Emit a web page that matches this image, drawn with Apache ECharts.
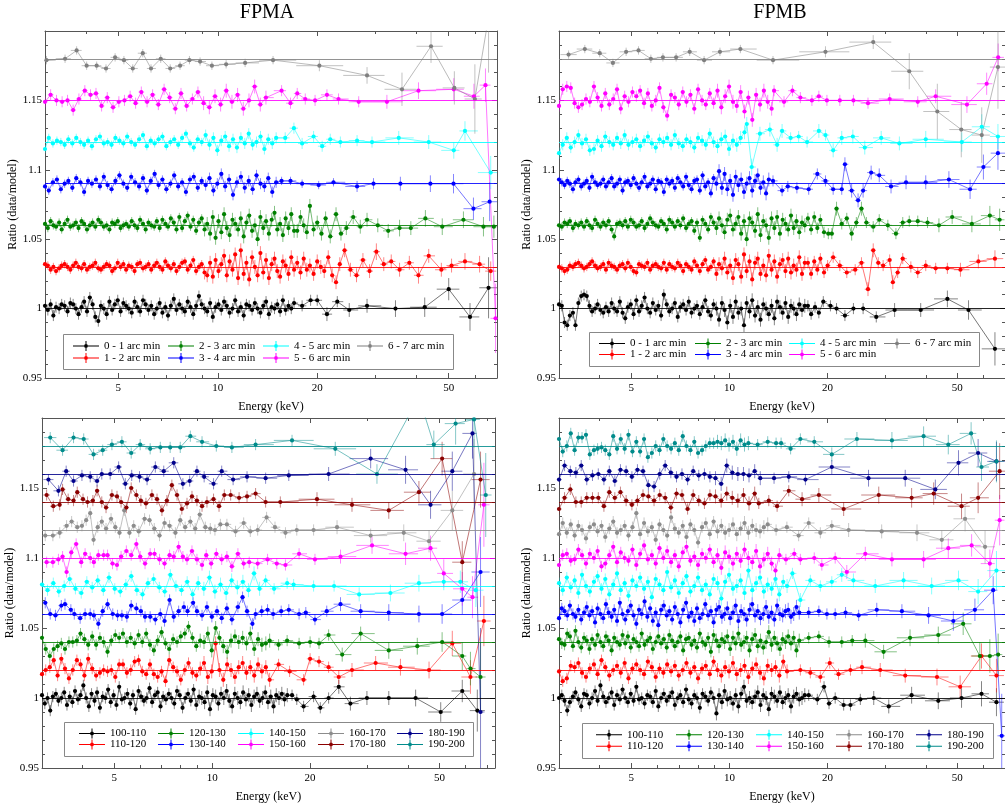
<!DOCTYPE html>
<html><head><meta charset="utf-8">
<script src="https://cdn.jsdelivr.net/npm/echarts@6.0.0/dist/echarts.min.js"></script>
<style>html,body{margin:0;padding:0;background:#fff}#c{width:1005px;height:806px}</style>
</head><body><div id="c"></div>
<script>
// ---------- axis / label data ----------
const majorTicksKeV = [5, 10, 20, 50];
const minorTicksKeV = [4, 6, 7, 8, 9, 30, 40, 60, 70];
const topNames = ['0 - 1 arc min','1 - 2 arc min','2 - 3 arc min','3 - 4 arc min','4 - 5 arc min','5 - 6 arc min','6 - 7 arc min'];
const bottomNames = ['100-110','110-120','120-130','130-140','140-150','150-160','160-170','170-180','180-190','190-200'];
const topBaselines = [1.00, 1.03, 1.06, 1.09, 1.12, 1.15, 1.18];
const bottomBaselines = [1.00, 1.02, 1.04, 1.06, 1.08, 1.10, 1.12, 1.14, 1.16, 1.18];

// ---------- shared energy grids (keV) ----------
const gridA = [3.00,3.06,3.12,3.18,3.24,3.31,3.37,3.44,3.51,3.58,3.65,3.72,3.79,3.87,3.94,4.02,4.10,4.18,4.26,4.35,4.43,4.52,4.61,4.70,4.79,4.88,4.98,5.08,5.18,5.28,5.38,5.49,5.60,5.71,5.82,5.94,6.05,6.17,6.29,6.42,6.54,6.67,6.80,6.94,7.07,7.21,7.36,7.50,7.65,7.80,7.95,8.11,8.27,8.43,8.60,8.77,8.94,9.12,9.29,9.48,9.66,9.85,10.05,10.25,10.45,10.65,10.86,11.08,11.29,11.52,11.74,11.98,12.21,12.45,12.70,12.95,13.20,13.46,13.73,14.00,14.28,14.56,14.85,15.14,15.44,15.74,16.05,16.37,16.69,17.02];
const gridB = [3.00,3.08,3.17,3.26,3.35,3.44,3.53,3.63,3.73,3.84,3.94,4.05,4.16,4.28,4.40,4.52,4.64,4.77,4.90,5.04,5.18,5.32,5.47,5.62,5.78,5.94,6.10,6.27,6.44,6.62,6.80,6.99,7.19,7.38,7.59,7.80,8.01,8.24,8.46,8.70,8.94,9.19,9.44,9.70,9.97,10.25,10.53,10.82,11.12,11.43,11.75,12.07,12.41,12.75,13.10,13.47,13.84,14.22,14.62,15.02];
const gridC = [3.00,3.12,3.25,3.38,3.51,3.65,3.80,3.96,4.12,4.28,4.45,4.63,4.82,5.02,5.22,5.43,5.64,5.87,6.11,6.35,6.61,6.88,7.15,7.44,7.74,8.05,8.38,8.71,9.06,9.43,9.81,10.20,10.61,11.04,11.48,11.95,12.43,12.93,13.45,13.99];
const noE = [];

// ---------- FPMA, annuli (deviations from baseline in 0.001, errors in 0.001) ----------
const tlBlackDev = [2,-1,3,-5,1,0,3,2,-2,4, 3,0,-4,1,5,-2,8,3,-6,-9, 2,0,-4,5,-1,3,6,-2,4,2, 0,-3,5,1,-2,6,3,-1,2,-4, 0,4,-3,1,-5,2,7,-1,3,0, -2,5,1,-4,2,9,3,0,-2,4, -6,1,3,-1,5,2,-3,0,6,-2, 1,-5,3,2,-1,4,0,-3,2,5, -4,1,0,3,-2,6,-1,2,0,4];
const tlBlackTailE = [18.0,19.1,20.0,21.4,23.0,25.0,28.3,34.5,42.3,50,58,66];
const tlBlackTailDev = [2,6,6,-4,5,-1,2,0,1,14,-6,15];
const tlBlackTailErr = [4,4,4,5,4,5,5,6,7,8,10,22];

const tlRedDev = [2,1,-2,0,-3,-1,1,2,0,-2, 1,3,0,-1,2,-2,0,1,3,-1, -2,0,2,1,-3,-1,3,0,2,-2, 1,0,-3,2,3,-1,0,2,-2,1, 3,0,-2,4,1,-1,2,-3,0,3, 4,-2,1,5,-3,0,2,-4,-6,3, -7,5,-3,2,8,-6,4,-2,9,-8, 12,-5,3,-9,7,0,-6,10,-4,5, -8,2,6,-3,-7,4,1,-5,7,-2];
const tlRedTailE = [17.4,17.8,18.2,18.6,19.0,19.5,20.0,20.5,21.0,21.6,22.2,22.8,23.4,24.2,25.2,26.3,27.5,28.8,30.2,31.8,33.5,35.5,38.0,40.5,43.5,47.5,51,56,62,67];
const tlRedTailDev = [3,-4,6,-2,1,-5,4,0,-3,7,-6,-11,2,12,-2,-6,5,-3,11,2,4,-2,3,-6,8,-2,1,4,2,-3];
const tlRedTailErr = [5,5,5,5,5,5,5,5,5,5,5,5,5,5,5,5,5,5,6,5,5,5,5,6,5,5,5,6,6,7];

const tlGreenDev = [1,-2,3,0,-1,2,-3,1,4,-1, 0,2,-2,3,1,-3,0,2,-1,4, 2,-1,0,-3,2,1,3,-2,0,1, -1,3,0,-2,4,1,-3,2,0,-1, 3,-2,4,1,-1,5,2,-3,6,-2, 3,7,-1,4,-4,2,5,-3,1,-6, 6,-9,3,-5,8,-2,-7,4,1,-3, 5,-8,2,7,-4,0,-10,6,-2,3, -6,4,9,-3,1,-7,5,-2,8,-4];
const tlGreenTailE = [17.4,17.8,18.2,18.6,19.0,19.5,20.0,20.6,21.2,21.9,22.8,23.6,24.5,25.7,27.0,28.3,30.5,32.8,35.5,38.4,42.5,47.8,55.4,63.7,68.5];
const tlGreenTailDev = [-4,6,0,-5,14,-3,2,-6,5,-8,8,-6,-2,6,-1,4,0,-4,-2,-2,5,-1,4,-1,-1];
const tlGreenTailErr = [5,5,5,5,5,5,5,5,5,5,5,5,5,5,5,5,5,5,6,5,6,6,6,7,8];

const tlBlueDev = [-2,-5,1,3,-4,0,2,-3,4,1, -6,2,0,3,-2,5,-1,-4,2,6, 0,-3,5,1,-2,4,-5,2,7,-1, 3,-4,0,6,-2,1,-6,3,5,-3, 2,-1,4,-5,0,7,-2,3,-8,1, 5,-3,2,-4,6,0,-2,4,-6,1];
const tlBlueTailE = [15.6,16.6,18,20.2,22.4,26.4,29.6,35.7,44,51.7,59.4,66.5];
const tlBlueTailDev = [2,2,0,-1,1,-2,0,0,0,0,-18,-13];
const tlBlueTailErr = [3,3,3,3,3,4,4,5,6,7,8,14];

const tlCyanDev = [-5,3,-1,1,0,-2,2,-1,3,0, -2,1,-3,2,4,-1,0,-2,3,1, -1,4,0,-2,2,5,-3,1,-1,2, 4,-3,0,2,-2,3,6,-1,-4,2, 0,5,-2,3,-6,1,4,-3,2,-4, 3,-1,6,-2,0,4,-5,2,-1,3];
const tlCyanTailE = [16.0,17,18,19.5,20.7,21.9,23.5,26.4,29.3,35.3,43.5,51.8,56,67];
const tlCyanTailDev = [3,10,-1,4,-3,2,0,1,0,3,0,-6,8,-22];
const tlCyanTailErr = [4,4,4,4,4,4,4,4,4,5,5,6,7,12];

const tlMagentaDev = [-1,4,0,-1,0,-7,1,7,4,5, -4,2,-5,-1,0,3,-2,6,-1,4, -3,8,2,-6,5,-4,1,6,-2,-5, 3,-3,7,-1,4,-6,0,10,-3,2];
const tlMagentaTailE = [15.6,16.6,17.4,18.4,19.7,21.4,23.2,26.7,32.5,40.5,51.8,59.6,64.6,69.3];
const tlMagentaTailDev = [7,-2,5,1,0,4,1,-1,-1,7,8,3,11,-157];
const tlMagentaTailErr = [4,4,4,4,4,4,4,4,5,6,8,9,12,25];

const tlGrayE = [3.03,3.45,3.74,4.01,4.30,4.59,4.89,5.20,5.53,5.93,6.28,6.72,7.18,7.69,8.21,8.84,9.60,10.6,12.1,14.7,20.3,28.3,36.1,44.2,52,60,66];
const tlGrayDev = [-1,0,6,-5,-5,-7,1,-1,-7,4,-7,0,-7,-5,-1,-2,-5,-4,-3,-1,-5,-12,-22,9,-21,-29,30];
const tlGrayErr = [3,3,3,3,3,3,3,3,3,3,3,3,3,3,3,3,3,3,3,3,4,6,12,12,12,25,40];

// ---------- FPMB, annuli ----------
const trBlackDev = [3,2,-10,-12,-5,-3,-12,4,9,10, 9,2,-2,0,3,-1,-3,1,-2,4, 0,-2,5,-3,-7,1,3,-4,6,-2, 2,8,0,-3,4,-1,2,-5,10,3, -2,0,4,-6,1,3,-1,5,-3,0, 2,-4,1,6,-2,-5,3,0,-8,4, -1,-10,2,-6,5,-3,0,-12,4,-2, 6,-5,1,-8,3,0,-4,2,-7,5, 1,-3,4,-6,2,0,-4,3,-1,2];
const trBlackTailE = [17.4,17.8,18.3,18.8,19.4,20.4,21.3,22.6,24,25.7,28.2,32.1,38.6,46.6,54.1,65.2];
const trBlackTailDev = [2,-4,1,-3,5,2,0,-5,0,0,-6,-1,-1,7,-1,-29];
const trBlackTailErr = [4,4,4,4,4,4,4,4,4,4,4,5,5,6,7,12];

const trRedDev = [0,-1,-3,-2,1,0,2,3,1,-1, 0,2,4,1,-1,0,2,-2,3,1, 0,-2,1,2,-1,3,0,-3,-4,2, 1,0,3,-2,1,2,0,-1,3,-2, 2,0,-1,3,1,-3,2,0,-2,4, 1,-3,2,5,-2,0,4,-5,2,-1, 6,-4,1,-8,5,2,-7,9,-3,4, -9,3,6,-5,1,-6,8,-2,4,-7, 2,5,-3,6,-4,1,-2,7,-5,3];
const trRedTailE = [17.4,17.8,18.2,18.6,19.0,19.5,20.0,20.8,21.8,22.9,24.3,25.4,26.6,27.6,28.6,29.6,31,31.7,32.8,34,36,37.8,40,42.9,46.6,51.1,58,65.2];
const trRedTailDev = [3,-5,4,-2,6,-4,1,7,1,-4,-2,3,-16,12,3,1,5,-11,-4,6,0,-4,1,-1,-1,-2,4,6];
const trRedTailErr = [4,4,4,4,4,4,4,4,4,4,4,4,5,5,4,4,4,5,4,4,4,4,4,4,4,5,5,6];

const trGreenDev = [0,-1,2,1,3,-2,1,0,2,-1, 3,0,-2,4,1,-1,2,0,3,-3, -8,1,2,0,3,-1,4,2,-1,0, 3,-2,1,5,2,0,-1,3,1,-3, 4,2,-1,3,0,5,-2,1,3,-4, 2,-9,4,1,-3,6,2,-2,5,0, -5,4,7,-3,1,6,-6,3,-10,5, 2,-4,8,-7,3,0,-9,5,-2,6, -6,4,1,-3,7,-2,3,-5,2,0];
const trGreenTailE = [17.4,17.8,18.2,18.6,19.0,19.5,20.1,20.6,21.3,22.1,22.9,23.7,24.5,25.4,26.3,27.6,28.8,30.6,32.4,34,35.6,37.8,40.5,43.9,48.2,55.4,62.9,67.4];
const trGreenTailDev = [5,-3,6,-2,4,-5,-6,-6,12,1,5,-6,2,12,2,-1,4,0,-6,2,3,3,2,0,6,1,7,4];
const trGreenTailErr = [4,4,4,4,4,4,4,4,5,4,4,5,4,5,4,4,4,4,4,4,4,4,4,5,5,6,7,8];

const trBlueDev = [3,1,-1,2,0,-4,1,3,-2,0, 2,-3,5,1,-1,0,3,-2,1,4, -2,0,3,-5,1,2,-1,4,0,-3, 1,5,-2,0,3,-4,2,1,-6,3, 0,2,-3,4,1,-2,5,-1,-4,2, 3,-5,6,-2,1,-7,4,0,9,-3, 7,-4,2,-8,5,-1,3,-6,0,4, -5,2,6,-3,1,-7,3];
const trBlueTailE = [13.6,14.5,15.1,16.1,17.5,18.6,19.7,20.8,22.1,22.6,23.7,24.8,25.7,27.2,28.8,31.3,34.8,40,47.1,54.7,60.1,66.6];
const trBlueTailDev = [2,-5,-2,-3,-4,7,2,-4,-4,14,-5,-12,-5,8,6,-2,1,1,3,-4,12,22];
const trBlueTailErr = [4,4,4,4,4,4,4,4,4,5,5,5,5,5,5,5,5,5,6,7,9,12];

const trCyanDev = [-8,-2,3,-4,0,5,-1,2,-6,-5, 1,-3,4,0,-2,3,-1,5,-2,0, 2,-3,1,4,-1,-4,2,0,3,-2, 5,-1,-3,2,0,-4,3,1,-2,6, 0,-3,2,4,-5,1,-2,3,7];
const trCyanTailE = [11.3,11.7,12.4,13.3,14.0,14.5,15.4,16.3,17.3,18.8,19.7,20.8,22.1,23.9,26,29.2,33.2,40,51.6,59.4,66.6];
const trCyanTailDev = [13,-18,6,9,-2,8,3,4,0,8,5,-6,3,4,-4,3,-1,2,0,11,4];
const trCyanTailErr = [5,6,5,5,5,5,4,4,4,5,4,5,5,5,5,5,5,6,7,9,9];

const trMagentaDev = [-4,8,10,9,-2,-5,-3,1,-1,10, 2,-4,5,-3,1,8,-6,3,-1,6, 3,7,-2,5,-4,0,9,-5,-11,4, 2,-3,6,-1,4,-6,8,0,-3,5, -2,7,-5,3,10,-1,-4,6,-8,2, -14,4,-3,7,-1,-6];
const trMagentaTailE = [13.7,14.7,15.6,16.5,17.9,18.8,19.9,21.8,24,26.6,31,37.8,42.9,53.5,61.5,66.7];
const trMagentaTailDev = [7,-1,7,2,0,3,0,0,0,-2,1,-1,3,-3,12,31];
const trMagentaTailErr = [4,4,4,4,4,4,4,4,4,4,4,4,5,6,8,10];

const trGrayE = [3.21,3.60,4.0,4.39,4.82,5.26,5.74,6.25,6.86,7.55,8.36,9.35,10.8,13.6,19.7,27.6,35.6,43.4,51.4,59.4,66.6];
const trGrayDev = [3,7,4,-3,5,6,0,1,1,5,-1,5,7,-1,5,12,-9,-38,-51,-55,-6];
const trGrayErr = [3,3,3,3,3,3,3,3,3,3,3,3,3,3,4,5,13,20,20,20,30];

// ---------- FPMA, bottom rings ----------
const blBlackDev = [2,-4,0,-9,1,3,-2,0,4,-5, 1,-3,5,-1,2,9,0,-6,3,-2, 4,-7,1,0,6,-3,2,-5,8,-1, 0,3,-4,2,-8,5,1,-2,0,7, -3,2,4,-6,1,-1,3,0,-4,5, 2,-7,0,3,-2,6,-5,1,0,-3, 4,-8,2,1,-4,3,0,5,-2,-6, 3,0,-3,4,-1,2,-5,1,3,-2, 0,4,-3,1,-6,2,0,3,-1,2];
const blBlackTailE = [17.6,18.2,19.1,20.5,21.5,22.8,24.5,26.6,29.9,34.9,42.2,50.4,58.7,65.3];
const blBlackTailDev = [2,-1,-6,1,-7,0,8,-4,0,0,0,-10,5,-9];
const blBlackTailErr = [4,4,4,4,4,4,5,5,5,5,6,7,8,15];

const blRedDev = [-3,0,2,7,-4,8,1,-6,0,7, 4,-4,8,1,-4,-2,0,-1,0,-5, 4,4,-2,0,6,7,-1,-3,4,-3, -5,-1,-8,7,2,-1,-7,0,5,-2, -4,1,5,-5,-1,19,0,-7,4,0, -5,2,5,-2,2,-4,4,-1,2,-7];
const blRedTailE = [16,17.3,19.1,20,21.3,22.8,24.5,26.9,31.8,37.9,46.4,54.7,62.2,68.4];
const blRedTailDev = [4,-1,-7,8,6,2,-5,0,5,2,0,19,-5,35];
const blRedTailErr = [4,4,4,4,4,4,5,5,5,6,6,9,12,18];

const blGreenDev = [3,-5,-10,-5,-3,-1,-5,0,0,1, 6,2,-2,4,-2,3,0,-7,1,5, 3,6,0,3,-1,5,0,6,-2,-6, 1,7,-1,-5,2,0,4,6,11,3, -3,1,0,6,-6,10,3,-3,-7,1, 4,0,3,-1,6,-5,2,-2,-1,1];
const blGreenTailE = [16,17,18.5,20,21.3,22.8,25.1,28.6,34.9,42.7,50.9,58.7,62.2,66.8];
const blGreenTailDev = [-2,1,-1,0,-1,5,-9,6,-6,-3,0,-10,-19,-25];
const blGreenTailErr = [4,4,4,4,4,4,5,5,6,6,7,10,12,25];

const blBlueE = [3.07,3.18,3.30,3.44,3.53,3.68,3.77,3.93,4.07,4.22,4.33,4.47,4.61,4.77,4.95,5.12,5.28,5.47,5.64,5.85,6.04,6.22,6.45,6.69,6.93,7.14,7.40,7.62,7.89,8.19,8.40,8.74,8.98,9.31,9.64,9.98,10.35,10.7,11.1,11.5,12.0,12.4,12.8,13.3,13.6,14.2,14.8,15.4,16.3,17.2,18.5,19.4,20.7];
const blBlueDev = [8,0,-1,6,7,3,0,-3,0,0, -1,-7,2,7,0,-1,-1,-2,6,4, 2,-2,-2,-4,0,-5,10,-2,2,5, 2,8,2,-1,5,-2,2,-3,4,-4, 5,12,2,-7,0,2,3,0,2,3, 0,1,-4];
const blBlueTailE = [22.5,24.8,28.6,34.9,43.2,50.9,58.7,66.8];
const blBlueTailDev = [2,7,2,1,0,0,10,30];
const blBlueTailErr = [4,5,5,6,6,7,10,25];

const blCyanDev = [1,-3,2,-4,0,5,-2,-5,3,-1, 4,-3,6,-2,-4,1,7,-3,-6,2, 5,-1,-4,8,0,-3,3,-6,2,-2, 6,-4,1,-5,4,-1,3,-3,9,-2];
const blCyanTailE = [14.6,15.5,17,17.8,20.5,23.7,28.3,35.3,43.2,51.5,57.9,64.6];
const blCyanTailDev = [4,-2,2,1,0,0,-6,-5,2,3,3,-3];
const blCyanTailErr = [4,4,4,4,4,4,5,6,6,6,8,12];

const blMagentaE = [3.10,3.24,3.37,3.47,3.57,3.69,3.82,3.96,4.07,4.22,4.33,4.47,4.64,4.77,4.94,5.10,5.25,5.45,5.64,5.85,6.01,6.22,6.45,6.65,6.89,7.14,7.40,7.62,7.89,8.13,8.37,8.67,8.98,9.31,9.59,9.93,10.3,10.7,11.1,11.5,12.0,12.5,13.0,13.8,14.8,15.8,16.8,18.5,20.7];
const blMagentaDev = [-3,-3,-1,1,-10,4,10,-3,3,0, -3,2,2,2,-4,-5,1,5,2,10, 1,-4,3,3,-1,-4,2,1,8,1, -1,5,-1,-5,2,-4,3,-1,1,-6, 3,-4,-3,-4,-1,-4,-5,3,-1];
const blMagentaTailE = [24.8,31,39.3,46.9,51.5,58.7,63.1,68.4];
const blMagentaTailDev = [1,9,3,7,-11,-22,-28,38];
const blMagentaTailErr = [5,6,8,9,10,12,15,30];

const blGrayE = [3.07,3.24,3.40,3.57,3.70,3.85,3.98,4.10,4.22,4.32,4.45,4.58,4.72,4.89,5.04,5.19,5.37,5.57,5.74,5.95,6.20,6.42,6.64,6.89,7.14,7.40,7.71,7.98,8.26,8.57,8.87,9.16,9.53,9.87,10.2,10.6,11.1,11.8,12.5,13.1,13.8,14.7,15.6,16.8,18.2,20.5];
const blGrayDev = [-4,-4,-2,3,6,2,3,7,12,-7, 2,6,1,8,2,-2,14,-2,3,-1, 8,7,1,-4,5,3,-2,7,2,6, 1,11,2,1,0,4,4,-1,5,-1, 0,9,2,-2,0,0];
const blGrayTailE = [24.2,30.7,38.8,46.4,54.7,63.8];
const blGrayTailDev = [2,-4,-2,-8,14,40];
const blGrayTailErr = [5,5,6,8,14,25];

const blDarkredE = [3.10,3.25,3.40,3.47,3.61,3.75,3.85,4.01,4.14,4.30,4.43,4.58,4.72,4.92,5.10,5.25,5.45,5.64,5.85,6.04,6.26,6.53,6.77,7.01,7.26,7.52,7.80,8.07,8.37,8.67,8.98,9.31,9.64,10.1,10.5,10.9,11.4,12.1,12.8,13.6,14.6,16.2];
const blDarkredDev = [5,-3,-2,9,2,1,7,2,0,1, 8,0,-4,5,4,0,-4,10,5,1, -1,5,2,-6,1,12,5,-5,-1,4, 1,-3,0,2,-3,5,5,3,4,6, 0,0];
const blDarkredTailE = [21,26.9,34.9,43.2,50.9,58.7,66.8];
const blDarkredTailDev = [2,-2,-6,7,31,-43,16];
const blDarkredTailErr = [5,5,6,8,12,15,20];

const blNavyE = [3.14,3.37,3.56,3.75,3.98,4.22,4.43,4.58,4.86,5.16,5.41,5.66,5.98,6.31,6.69,7.10,7.62,8.13,8.53,8.98,9.45,10.1,10.7,11.6,12.8,14.6,17.2];
const blNavyDev = [-4,-12,2,-5,-1,-2,-5,0,0,5, -7,-1,-2,-4,5,2,8,-7,-5,2, -2,-7,2,-4,-2,-3,-1];
const blNavyTailE = [22.8,30.7,39.3,46.9,54.7,63.1,66.8];
const blNavyTailDev = [0,11,3,-22,2,29,-170];
const blNavyTailErr = [5,7,10,10,14,18,60];

const blTealE = [3.18,3.47,3.75,4.03,4.32,4.61,4.92,5.28,5.64,6.01,6.45,6.93,7.43,7.98,8.57,9.31,10.3,11.5,13.6,17.6];
const blTealDev = [6,-3,6,5,-6,-3,1,3,-5,1, -2,-1,-1,-1,7,3,0,-1,1,4];
const blTealTailE = [23.9,32.1,43.2,48,56,63.8,69.3];
const blTealTailDev = [-2,-20,35,1,16,19,-35];
const blTealTailErr = [5,7,15,10,15,20,30];

// ---------- FPMB, bottom rings ----------
const brBlackDev = [0,2,-2,-9,-3,1,4,-1,-6,3, 2,-4,0,5,-2,9,1,-3,0,4, -5,2,-1,6,0,-3,3,-2,8,-1, 0,-4,2,1,-3,5,-6,0,3,-2, 1,4,-5,0,2,-3,6,-1,-4,2, 0,-7,3,1,-2,4,0,-11,2,-3, 5,-1,0,-4,2,-6,3,8,-2,0, -3,1,4,-5,2,0,-8,3,1,-2, 4,-3,0,2,-6,1,3,-1,0,2];
const brBlackTailE = [17.5,18.6,19.5,20.2,21.1,22.4,23.5,25.2,27.7,30.8,36.2,43.7,51.5,59.3,65.9];
const brBlackTailDev = [2,-1,8,-4,0,-5,-5,-1,0,-6,2,-2,0,3,-3];
const brBlackTailErr = [4,4,4,4,4,4,4,4,5,5,6,6,7,9,10];

const brRedDev = [-1,-8,-6,3,2,5,-2,-5,1,4, -3,7,2,-4,0,3,-2,5,-6,1, 4,0,-3,6,2,-5,1,-2,4,-1, 3,-4,0,5,-2,2,-6,1,3,-3, 6,0,-4,2,-1,5,-3,0,3,-5, 1,4,-2,-6,3,0,2,-4,6,-1];
const brRedTailE = [16.5,17.7,19,20.3,21.6,23.5,25.5,29,34.6,43.3,51,59.3,65.9];
const brRedTailDev = [0,-2,-5,5,-3,0,2,0,-4,-5,-12,10,-4];
const brRedTailErr = [4,4,4,4,4,4,5,5,5,6,8,9,12];

const brGreenDev = [2,-1,-2,6,4,-3,8,0,-4,3, 1,-5,2,-2,5,0,-3,4,1,-6, 3,0,-2,5,-1,4,-4,2,0,-3, 6,-2,1,3,-5,0,4,-1,2,-4, 5,1,-3,0,4,-6,2,3,-2,1, -4,6,0,-2,3,-7,5,1,-3,2, 0,4,-5,3,-1,6,-2,0,3,-6, 2,5,-3,1,-4,0,7,-2,3,-1, -5,2,0,4,-1,3,-6,1];
const brGreenTailE = [17.5,18.8,20.2,22.1,23.8,26.1,29.7,35.8,43.7,52.1,58.6,62.9,66.7];
const brGreenTailDev = [3,4,0,0,1,1,-7,3,5,13,-10,-10,-9];
const brGreenTailErr = [4,4,4,4,4,5,5,6,6,8,10,12,15];

const brBlueDev = [-3,4,2,-1,6,0,-2,3,-4,1, 5,-1,2,-6,4,0,-3,7,1,-2, 3,-5,8,0,-4,2,6,-1,-7,3, 0,9,-2,4,-5,1,-8,3,6,-1, 2,-4,5,0,-6,3,8,-2,1,-5, 4,-3,0,7,-1,2,-6,3,5,-2, 0,4,-3,1,6,-5,2,0,-4,3, 7,-1,2,-3,0,5,-2,1,-4,6, 0,-1,2,3,-2,0,5,1];
const brBlueTailE = [17.5,18.8,19.9,21.1,22.7,24.9,28.3,33.8,40.8,48.6,56.6,64.4,68.4];
const brBlueTailDev = [1,2,0,0,1,-1,3,2,-1,-5,3,17,-87];
const brBlueTailErr = [4,4,4,4,4,4,5,5,6,7,8,10,30];

const brCyanDev = [2,-3,6,-1,4,-5,8,0,-4,3, 7,-2,5,-6,1,9,-3,2,-7,4, 0,6,-2,3,-8,5,1,-3,10,-1, 4,-5,2,7,-4,0,6,-3,1,-6, 5,2,-9,3,8,-2,0,4,-5,11, -3,2,6,-4,1,-2,5,-6,3,0];
const brCyanTailE = [15.6,16.5,17.7,19,20.6,22.1,24,28,34.2,41.7,50.4,57.9,65.9];
const brCyanTailDev = [9,-10,4,0,3,8,4,0,4,0,4,-4,11];
const brCyanTailErr = [4,5,4,4,4,5,5,5,6,6,7,9,14];

const brMagentaDev = [-5,2,3,-2,-1,6,2,-4,3,0, 5,-6,-4,2,8,-3,4,0,-2,6, -5,3,9,-1,2,-4,7,0,5,-3, 2,-6,4,8,-2,1,-5,3,0,6, -3,2,-7,4,1,-4,3,-2,6,0, -3,5,-6,-1,3,-4,-9,2];
const brMagentaTailE = [14.9,15.8,16.5,18.2,19.2,21.1,22.9,26.1,31.5,39.4,46.9,55.3,62.9,67.4];
const brMagentaTailDev = [-1,3,-1,0,-5,0,-10,3,-1,-1,7,9,-4,27];
const brMagentaTailErr = [4,4,4,4,4,4,5,5,5,6,7,8,10,18];

const brGrayDev = [-3,5,-2,4,-4,3,0,-6,2,4, -1,3,-5,1,6,-2,0,3,-4,2, 12,-3,5,-1,2,-7,4,0,-4,9, 1,-2,3,-5,4,0,-9,2,5,-3, 6,-1,3,-2,0,4,-3,1,5,-2, 3,0,-1,2,4];
const brGrayTailE = [13.9,15,16.3,17.5,19,20.6,23.2,29.3,37.6,44.8,52.8,60.8];
const brGrayTailDev = [0,2,-4,5,-2,3,0,-1,-2,-7,8,-12];
const brGrayTailErr = [4,4,4,4,4,4,5,5,6,7,9,12];

const brDarkredDev = [-5,3,9,0,0,3,3,3,-3,7, 3,7,1,-2,1,5,4,1,5,3, -4,6,5,-5,5,1,-1,5,4,1, 6,3,1,5,-1,6];
const brDarkredTailE = [12.3,13.2,14,15.2,16.7,18.8,22.4,28.7,36.2,42.3,51.5,57.9,67.4];
const brDarkredTailDev = [-1,1,-3,8,2,5,-5,5,3,6,-3,3,22];
const brDarkredTailErr = [4,4,4,4,5,5,5,6,7,8,9,11,20];

const brNavyDev = [-4,6,2,1,6,-4,-1,0,-4,2, -5,3,2,-2,3,2,-8,-9,0,6, 1,-2,0,-4,2,-1,0,-2,-3,-7, 6,1,0,0,-1,2,-3];
const brNavyTailE = [13.7,15.2,17.1,20.6,26.7,34.6,42.8,50.4,57.9,65.9];
const brNavyTailDev = [-3,-2,-4,5,-3,-3,-11,8,15,9];
const brNavyTailErr = [4,4,4,5,6,6,7,9,10,14];

const brTealDev = [5,-4,0,9,-3,6,6,8,-6,-3, -2,-1,-3,-6,7,-2,5,-2,8,-4, 3,-4,5,-8,-5,0,-3,5,0,-2, 2,-3,7,0,-3,3,-5,-3,0,2, 2,3,2,4,1,3,-2,4,1,2];
const brTealTailE = [12.2,13.1,13.9,14.4,15.4,16.5,18.2,20.6,24.6,31.5,39.4,46.9,55.1,59.3,65.9];
const brTealTailDev = [1,3,2,2,-2,5,3,-6,5,4,7,1,9,-15,-11];
const brTealTailErr = [4,4,4,4,4,4,4,5,5,6,7,7,8,10,15];

// ---------- styles ----------
const topColors = ['#000000','#ff0000','#008000','#0000ff','#00ffff','#ff00ff','#7f7f7f'];
const bottomColors = ['#000000','#ff0000','#008000','#0000ff','#00ffff','#ff00ff','#8c8c8c','#8b0000','#00008b','#008b8b'];
const FONT = 'Liberation Serif';

// series table: [panel, index, dense energies, dense dev, tail E, tail dev, tail err, [errLow, errHigh]]
const table = [
  [0,0,gridA,tlBlackDev,tlBlackTailE,tlBlackTailDev,tlBlackTailErr,[4,4]],
  [0,1,gridA,tlRedDev,tlRedTailE,tlRedTailDev,tlRedTailErr,[3,5]],
  [0,2,gridA,tlGreenDev,tlGreenTailE,tlGreenTailDev,tlGreenTailErr,[3,5]],
  [0,3,gridB,tlBlueDev,tlBlueTailE,tlBlueTailDev,tlBlueTailErr,[3,4]],
  [0,4,gridB,tlCyanDev,tlCyanTailE,tlCyanTailDev,tlCyanTailErr,[3,4]],
  [0,5,gridC,tlMagentaDev,tlMagentaTailE,tlMagentaTailDev,tlMagentaTailErr,[4,5]],
  [0,6,noE,[],tlGrayE,tlGrayDev,tlGrayErr,[3,3]],
  [1,0,gridA,trBlackDev,trBlackTailE,trBlackTailDev,trBlackTailErr,[4,5]],
  [1,1,gridA,trRedDev,trRedTailE,trRedTailDev,trRedTailErr,[3,5]],
  [1,2,gridA,trGreenDev,trGreenTailE,trGreenTailDev,trGreenTailErr,[3,5]],
  [1,3,gridA,trBlueDev,trBlueTailE,trBlueTailDev,trBlueTailErr,[3,5]],
  [1,4,gridB,trCyanDev,trCyanTailE,trCyanTailDev,trCyanTailErr,[4,5]],
  [1,5,gridB,trMagentaDev,trMagentaTailE,trMagentaTailDev,trMagentaTailErr,[4,5]],
  [1,6,noE,[],trGrayE,trGrayDev,trGrayErr,[3,3]],
  [2,0,gridA,blBlackDev,blBlackTailE,blBlackTailDev,blBlackTailErr,[4,5]],
  [2,1,gridB,blRedDev,blRedTailE,blRedTailDev,blRedTailErr,[4,5]],
  [2,2,gridB,blGreenDev,blGreenTailE,blGreenTailDev,blGreenTailErr,[4,5]],
  [2,3,blBlueE,blBlueDev,blBlueTailE,blBlueTailDev,blBlueTailErr,[4,4]],
  [2,4,gridC,blCyanDev,blCyanTailE,blCyanTailDev,blCyanTailErr,[4,5]],
  [2,5,blMagentaE,blMagentaDev,blMagentaTailE,blMagentaTailDev,blMagentaTailErr,[4,4]],
  [2,6,blGrayE,blGrayDev,blGrayTailE,blGrayTailDev,blGrayTailErr,[4,4]],
  [2,7,blDarkredE,blDarkredDev,blDarkredTailE,blDarkredTailDev,blDarkredTailErr,[4,4]],
  [2,8,blNavyE,blNavyDev,blNavyTailE,blNavyTailDev,blNavyTailErr,[4,4]],
  [2,9,blTealE,blTealDev,blTealTailE,blTealTailDev,blTealTailErr,[4,4]],
  [3,0,gridA,brBlackDev,brBlackTailE,brBlackTailDev,brBlackTailErr,[4,5]],
  [3,1,gridB,brRedDev,brRedTailE,brRedTailDev,brRedTailErr,[4,5]],
  [3,2,gridA,brGreenDev,brGreenTailE,brGreenTailDev,brGreenTailErr,[4,5]],
  [3,3,gridA,brBlueDev,brBlueTailE,brBlueTailDev,brBlueTailErr,[4,5]],
  [3,4,gridB,brCyanDev,brCyanTailE,brCyanTailDev,brCyanTailErr,[4,5]],
  [3,5,gridB,brMagentaDev,brMagentaTailE,brMagentaTailDev,brMagentaTailErr,[4,5]],
  [3,6,gridB,brGrayDev,brGrayTailE,brGrayTailDev,brGrayTailErr,[4,5]],
  [3,7,gridC,brDarkredDev,brDarkredTailE,brDarkredTailDev,brDarkredTailErr,[4,5]],
  [3,8,gridC,brNavyDev,brNavyTailE,brNavyTailDev,brNavyTailErr,[4,5]],
  [3,9,gridB,brTealDev,brTealTailE,brTealTailDev,brTealTailErr,[4,5]]
];

// ---------- layout ----------
const grids = [
  {left:45, top:31, width:452, height:347},
  {left:559, top:31, width:451, height:347},
  {left:42, top:418, width:453, height:350},
  {left:559, top:418, width:447, height:350}
];
const panelMaxE = [70, 70, 74, 70];
const yNameGap = [22, 22, 21, 22];

function buildPoints(row){
  const [panel, idx, dE, dDev, tE, tDev, tErr, err] = row;
  const base = panel < 2 ? topBaselines[idx] : bottomBaselines[idx];
  const pts = [];
  const n = Math.min(dE.length, dDev.length);
  for (let i = 0; i < n; i++) pts.push([dE[i], base + dDev[i]/1000, (dE[i] < 9 ? err[0] : err[1])/1000]);
  const m = Math.min(tE.length, tDev.length);
  for (let i = 0; i < m; i++) pts.push([tE[i], base + tDev[i]/1000, (tErr[i] != null ? tErr[i] : err[1])/1000]);
  pts.sort((a,b)=>a[0]-b[0]);
  const lx = pts.map(p=>Math.log10(p[0]));
  const errData = pts.map((p,i)=>{
    const x = lx[i];
    const lo = i>0 ? (lx[i-1]+x)/2 : x-(lx[i+1]-x)/2;
    const hi = i<pts.length-1 ? (lx[i+1]+x)/2 : x+(x-lx[i-1])/2;
    return [x, p[1], lo, hi, p[1]-p[2], p[1]+p[2]];
  });
  return {base, errData, lineData: pts.map((p,i)=>[lx[i], p[1]])};
}

const axisLineStyle = {color:'#555', width:1};
const xAxes = [], yAxes = [];
for (let g = 0; g < 4; g++) {
  const min = Math.log10(3), max = Math.log10(panelMaxE[g]);
  const c = {type:'value', gridIndex:g, min, max, splitLine:{show:false}, silent:true};
  const maj = majorTicksKeV.map(v=>Math.log10(v)), mnr = minorTicksKeV.map(v=>Math.log10(v));
  xAxes.push({...c, position:'bottom', axisLine:{show:true, onZero:false, lineStyle:axisLineStyle},
    axisTick:{show:true, inside:true, length:5, customValues:maj, lineStyle:axisLineStyle},
    axisLabel:{show:true, customValues:maj, formatter:v=>String(Math.round(Math.pow(10,v))), fontFamily:FONT, fontSize:11, color:'#000', margin:5},
    name:'Energy (keV)', nameLocation:'middle', nameGap:23, nameTextStyle:{fontFamily:FONT, fontSize:12, color:'#000'}});
  xAxes.push({...c, position:'bottom', axisLine:{show:false, onZero:false}, axisTick:{show:true, inside:true, length:3, customValues:mnr, lineStyle:axisLineStyle}, axisLabel:{show:false}});
  xAxes.push({...c, position:'top', axisLine:{show:true, onZero:false, lineStyle:axisLineStyle}, axisTick:{show:true, inside:true, length:5, customValues:maj, lineStyle:axisLineStyle}, axisLabel:{show:false}});
  xAxes.push({...c, position:'top', axisLine:{show:false, onZero:false}, axisTick:{show:true, inside:true, length:3, customValues:mnr, lineStyle:axisLineStyle}, axisLabel:{show:false}});
  const yc = {type:'value', gridIndex:g, min:0.95, max:1.2, interval:0.05, splitLine:{show:false}, silent:true,
    axisTick:{show:true, inside:true, length:5, lineStyle:axisLineStyle},
    minorTick:{show:true, splitNumber:5, length:3, lineStyle:axisLineStyle},
    axisLine:{show:true, onZero:false, lineStyle:axisLineStyle}};
  yAxes.push({...yc, position:'left',
    axisLabel:{fontFamily:FONT, fontSize:11, color:'#000', margin:3, formatter:v=>Math.abs(v-1.2)<1e-9 ? '' : String(parseFloat(v.toFixed(2)))},
    name:'Ratio (data/model)', nameLocation:'middle', nameGap:yNameGap[g], nameRotate:90, nameTextStyle:{fontFamily:FONT, fontSize:12, color:'#000'}});
  yAxes.push({...yc, position:'right', axisLabel:{show:false}});
}

function makeRender(color){
  return function(params, api){
    const x = api.value(0), y = api.value(1);
    const a = api.coord([x, api.value(4)]), b = api.coord([x, api.value(5)]);
    const l = api.coord([api.value(2), y]), r = api.coord([api.value(3), y]);
    const st = {stroke: color, lineWidth: 1, opacity: 0.48};
    return {type:'group', children:[
      {type:'line', shape:{x1:a[0], y1:a[1], x2:b[0], y2:b[1]}, style:st},
      {type:'line', shape:{x1:l[0], y1:l[1], x2:r[0], y2:r[1]}, style:st}
    ]};
  };
}

const series = [];
table.forEach(row=>{
  const [panel, idx] = row;
  const name = panel < 2 ? topNames[idx] : bottomNames[idx];
  const color = panel < 2 ? topColors[idx] : bottomColors[idx];
  const {base, errData, lineData} = buildPoints(row);
  series.push({type:'custom', name, xAxisIndex:4*panel, yAxisIndex:2*panel, clip:true, silent:true,
    itemStyle:{color}, renderItem:makeRender(color), data:errData, encode:{x:0, y:1}, z:2});
  series.push({type:'line', name:name+' \u00b7', xAxisIndex:4*panel, yAxisIndex:2*panel, data:lineData,
    symbol:'circle', symbolSize:4.2, showSymbol:true, showAllSymbol:true, clip:true, silent:true,
    itemStyle:{color}, lineStyle:{color, width:0.9, opacity:0.6}, z:3,
    markLine:{silent:true, symbol:['none','none'], label:{show:false}, animation:false,
      lineStyle:{color, width:1, type:'solid', opacity:0.85}, data:[{yAxis:base}]}});
});

// legends: one vertical legend per column
const ICON = 'path://M0,4.5H26V5.5H0Z M12.5,0H13.5V10H12.5Z M13,3.1A1.9,1.9 0 1 1 12.99,3.1Z';
const legendCols = [
  {names:[topNames[0],topNames[1]], left:73, top:340, lh:12},
  {names:[topNames[2],topNames[3]], left:168, top:340, lh:12},
  {names:[topNames[4],topNames[5]], left:263, top:340, lh:12},
  {names:[topNames[6]], left:357, top:340, lh:12},
  {names:[topNames[0],topNames[1]], left:599, top:338, lh:11},
  {names:[topNames[2],topNames[3]], left:695, top:338, lh:11},
  {names:[topNames[4],topNames[5]], left:789, top:338, lh:11},
  {names:[topNames[6]], left:884, top:338, lh:11},
  {names:[bottomNames[0],bottomNames[1]], left:79, top:728, lh:11},
  {names:[bottomNames[2],bottomNames[3]], left:158, top:728, lh:11},
  {names:[bottomNames[4],bottomNames[5]], left:238, top:728, lh:11},
  {names:[bottomNames[6],bottomNames[7]], left:318, top:728, lh:11},
  {names:[bottomNames[8],bottomNames[9]], left:397, top:728, lh:11},
  {names:[bottomNames[0],bottomNames[1]], left:596, top:729, lh:11.5},
  {names:[bottomNames[2],bottomNames[3]], left:676, top:729, lh:11.5},
  {names:[bottomNames[4],bottomNames[5]], left:756, top:729, lh:11.5},
  {names:[bottomNames[6],bottomNames[7]], left:836, top:729, lh:11.5},
  {names:[bottomNames[8],bottomNames[9]], left:916, top:729, lh:11.5}
];
const legends = legendCols.map(c=>({
  orient:'vertical', left:c.left, top:c.top, padding:0, itemGap:0, itemWidth:26, itemHeight:10,
  icon:ICON, selectedMode:false, z:30, data:c.names,
  itemStyle:{borderWidth:0},
  textStyle:{fontFamily:FONT, fontSize:11, color:'#000', lineHeight:c.lh}
}));

const boxStyle = {fill:'#fff', stroke:'#888', lineWidth:1};
const graphic = [
  {type:'rect', shape:{x:63.5, y:334.5, width:390, height:35}, style:boxStyle, z:20, silent:true},
  {type:'rect', shape:{x:589.5, y:332.5, width:390, height:34}, style:boxStyle, z:20, silent:true},
  {type:'rect', shape:{x:64.5, y:722.5, width:409, height:34}, style:boxStyle, z:20, silent:true},
  {type:'rect', shape:{x:582.5, y:723.5, width:411, height:35}, style:boxStyle, z:20, silent:true},
  {type:'text', x:267, y:13, style:{text:'FPMA', font:'20px "Liberation Serif"', fill:'#000', textAlign:'center', textVerticalAlign:'middle'}, z:30},
  {type:'text', x:780, y:13, style:{text:'FPMB', font:'20px "Liberation Serif"', fill:'#000', textAlign:'center', textVerticalAlign:'middle'}, z:30}
];

const chart = echarts.init(document.getElementById('c'), null, {renderer:'canvas'});
chart.setOption({
  animation:false,
  backgroundColor:'#fff',
  grid: grids,
  xAxis: xAxes,
  yAxis: yAxes,
  legend: legends,
  graphic: graphic,
  series: series
});
</script>
</body></html>
